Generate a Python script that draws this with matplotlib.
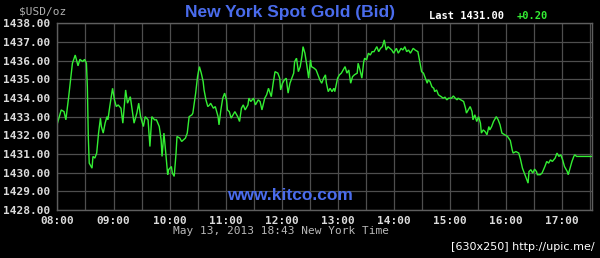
import matplotlib
matplotlib.use("Agg")
import matplotlib.pyplot as plt

# minutes after 08:00 New York time, and bid price in USD/oz
minutes = [
    0, 4, 7, 9, 12, 14, 16, 19, 22, 24, 27, 29, 31, 32, 33, 34, 37, 38, 40, 42,
    44, 46, 47, 49, 51, 53, 54, 56, 59, 61, 63, 65, 68, 70, 73, 75, 78, 80, 82, 85,
    87, 89, 92, 94, 97, 99, 101, 104, 106, 109, 111, 112, 114, 116, 118, 119, 122, 123, 125, 127,
    128, 131, 133, 135, 137, 139, 141, 144, 145, 148, 150, 152, 154, 156, 157, 159, 161, 163, 164, 167,
    169, 172, 173, 175, 177, 179, 181, 182, 184, 186, 188, 190, 193, 195, 197, 199, 201, 204, 205, 207,
    210, 212, 215, 217, 219, 222, 224, 226, 229, 231, 233, 236, 238, 239, 241, 243, 245, 247, 249, 251,
    253, 254, 256, 258, 260, 262, 263, 265, 267, 269, 271, 272, 275, 277, 279, 281, 283, 285, 287, 288,
    290, 292, 294, 296, 297, 300, 302, 304, 306, 308, 310, 312, 314, 316, 318, 321, 322, 324, 326, 328,
    329, 331, 333, 335, 337, 339, 342, 344, 346, 348, 350, 352, 354, 356, 358, 360, 362, 363, 365, 368,
    370, 372, 374, 376, 378, 381, 383, 386, 387, 389, 390, 392, 394, 396, 397, 399, 401, 403, 404, 406,
    408, 411, 413, 415, 417, 419, 422, 424, 426, 428, 429, 432, 435, 437, 438, 440, 442, 444, 445, 447,
    449, 451, 453, 454, 456, 458, 460, 462, 463, 465, 467, 470, 472, 474, 476, 479, 482, 485, 487, 488,
    491, 494, 496, 498, 500, 502, 504, 505, 507, 509, 511, 513, 514, 517, 519, 522, 524, 526, 528, 530,
    533, 535, 537, 539, 541, 543, 546, 547, 549, 551, 553, 554, 556, 572,
]
prices = [
    1432.65, 1433.36, 1433.27, 1432.83, 1434.07, 1434.97, 1435.86, 1436.30, 1435.72, 1436.07,
    1435.95, 1436.07, 1435.86, 1434.60, 1431.94, 1430.51, 1430.24, 1430.87, 1430.78, 1431.05,
    1432.12, 1432.92, 1432.47, 1432.12, 1432.65, 1433.00, 1432.83, 1433.54, 1434.52, 1433.90,
    1433.54, 1433.63, 1433.45, 1432.65, 1434.43, 1433.72, 1434.07, 1433.36, 1432.65, 1433.19,
    1433.72, 1433.00, 1432.47, 1433.00, 1432.83, 1431.40, 1433.00, 1432.83, 1432.83, 1432.47,
    1431.76, 1430.87, 1432.12, 1431.05, 1429.89, 1430.16, 1430.33, 1429.98, 1429.80, 1431.05,
    1431.94, 1431.85, 1431.67, 1431.76, 1431.85, 1432.12, 1433.00, 1433.10, 1433.19, 1434.26,
    1435.14, 1435.68, 1435.33, 1434.88, 1434.43, 1433.90, 1433.54, 1433.63, 1433.72, 1433.45,
    1433.54, 1433.00, 1432.56, 1433.36, 1433.99, 1434.26, 1433.90, 1433.36, 1433.27, 1432.92,
    1433.10, 1433.27, 1433.00, 1432.74, 1433.45, 1433.63, 1433.36, 1433.63, 1433.99, 1433.81,
    1433.99, 1433.63, 1433.90, 1433.81, 1433.36, 1433.99, 1434.17, 1434.52, 1434.07, 1434.79,
    1435.41, 1435.33, 1435.06, 1434.43, 1434.79, 1434.97, 1435.06, 1434.26, 1434.79, 1435.06,
    1435.33, 1435.95, 1436.13, 1435.41, 1435.68, 1436.30, 1436.75, 1436.40, 1435.77, 1435.06,
    1436.04, 1435.68, 1435.59, 1435.50, 1435.24, 1434.97, 1434.79, 1435.06, 1435.24, 1434.79,
    1434.34, 1434.52, 1434.34, 1434.52, 1434.34, 1435.06, 1435.24, 1435.33, 1435.50, 1435.68,
    1435.33, 1435.50, 1434.79, 1435.14, 1435.24, 1435.33, 1435.86, 1435.50, 1435.06, 1435.95,
    1436.13, 1436.04, 1436.40, 1436.30, 1436.48, 1436.48, 1436.75, 1436.48, 1436.66, 1436.75,
    1437.11, 1436.57, 1436.75, 1436.66, 1436.57, 1436.40, 1436.57, 1436.66, 1436.40, 1436.66,
    1436.57, 1436.75, 1436.48, 1436.57, 1436.40, 1436.66, 1436.57, 1436.48, 1436.21, 1435.68,
    1435.41, 1435.33, 1435.06, 1434.79, 1434.97, 1434.88, 1434.60, 1434.52, 1434.34, 1434.43,
    1434.17, 1434.07, 1433.99, 1434.04, 1433.90, 1433.99, 1433.99, 1434.11, 1433.99, 1433.90,
    1433.99, 1433.90, 1433.81, 1433.45, 1433.19, 1433.36, 1433.54, 1433.27, 1432.83, 1433.10,
    1432.74, 1433.00, 1432.65, 1432.12, 1432.29, 1432.20, 1432.03, 1432.47, 1432.29, 1432.47,
    1432.74, 1433.00, 1432.83, 1432.56, 1432.12, 1432.03, 1431.94, 1431.72, 1431.22, 1431.05,
    1431.13, 1431.05, 1430.69, 1430.24, 1429.98, 1429.71, 1429.44, 1430.06, 1430.16, 1429.98,
    1430.19, 1430.06, 1429.89, 1429.89, 1429.98, 1430.33, 1430.60, 1430.51, 1430.69, 1430.60,
    1430.78, 1431.05, 1430.87, 1430.96, 1430.69, 1430.33, 1430.06, 1429.89, 1430.24, 1430.60,
    1430.87, 1430.96, 1430.87, 1430.87,
]

hour_labels = ["08:00", "09:00", "10:00", "11:00", "12:00",
               "13:00", "14:00", "15:00", "16:00", "17:00"]
price_ticks = [1428, 1429, 1430, 1431, 1432, 1433, 1434, 1435, 1436, 1437, 1438]

TITLE = "New York Spot Gold (Bid)"
UNIT = "$USD/oz"
LAST = "Last 1431.00"
CHANGE = "+0.20"
STAMP = "May 13, 2013 18:43 New York Time"

BG = "black"
GRID = "#4e4e4e"
TEXT = "#dcdcdc"
GREEN = "#33ee33"
BLUE = "#4a6cec"
MONO = "DejaVu Sans Mono"

fig = plt.figure(figsize=(6.0, 2.58), dpi=100, facecolor=BG)
ax = fig.add_axes([0.0958, 0.186, 0.8909, 0.7237], facecolor=BG)

ax.plot(minutes, prices, color=GREEN, lw=1.0, solid_joinstyle="miter")

ax.set_xlim(0, 572.5)
ax.set_ylim(1428, 1438)
ax.set_xticks(range(0, 600, 60))
ax.set_xticklabels(hour_labels)
ax.set_xticks(range(30, 600, 60), minor=True)
ax.set_yticks(price_ticks)
ax.set_yticklabels([f"{p:.2f}" for p in price_ticks])

ax.grid(True, which="both", color=GRID, lw=0.9)
ax.set_axisbelow(True)
ax.tick_params(which="both", length=0, colors=TEXT)
ax.tick_params(axis="x", pad=4)
ax.tick_params(axis="y", pad=5)
for lab in ax.get_xticklabels() + ax.get_yticklabels():
    lab.set_fontfamily(MONO)
    lab.set_fontsize(8)
    lab.set_fontweight("bold")
for sp in ax.spines.values():
    sp.set_color("#5e5e5e")
    sp.set_linewidth(1.0)

# header texts
fig.text(290 / 600, 1 - 12 / 258, TITLE, color=BLUE, fontsize=12.5,
         fontweight="bold", family="Liberation Sans", ha="center", va="center")
fig.text(19 / 600, 1 - 11 / 258, UNIT, color="#b0b0b0", fontsize=8,
         family=MONO, ha="left", va="center")
fig.text(429 / 600, 1 - 16 / 258, LAST, color="white", fontsize=7.5,
         family=MONO, fontweight="bold", ha="left", va="center")
fig.text(517 / 600, 1 - 16 / 258, CHANGE, color=GREEN, fontsize=7.5,
         family=MONO, fontweight="bold", ha="left", va="center")

# watermark and footer
ax.text(0.435, 0.035, "www.kitco.com", transform=ax.transAxes, color=BLUE,
        fontsize=12.5, fontweight="bold", family="Liberation Sans",
        ha="center", va="bottom")
fig.text(281 / 600, 1 - 231 / 258, STAMP, color="#b8b8b8", fontsize=8,
         family=MONO, ha="center", va="center")
fig.text(595 / 600, 1 - 247 / 258, "[630x250] http://upic.me/", color="white",
         fontsize=8, family="DejaVu Sans", ha="right", va="center")

fig.savefig("out.png", dpi=100, facecolor=BG)
